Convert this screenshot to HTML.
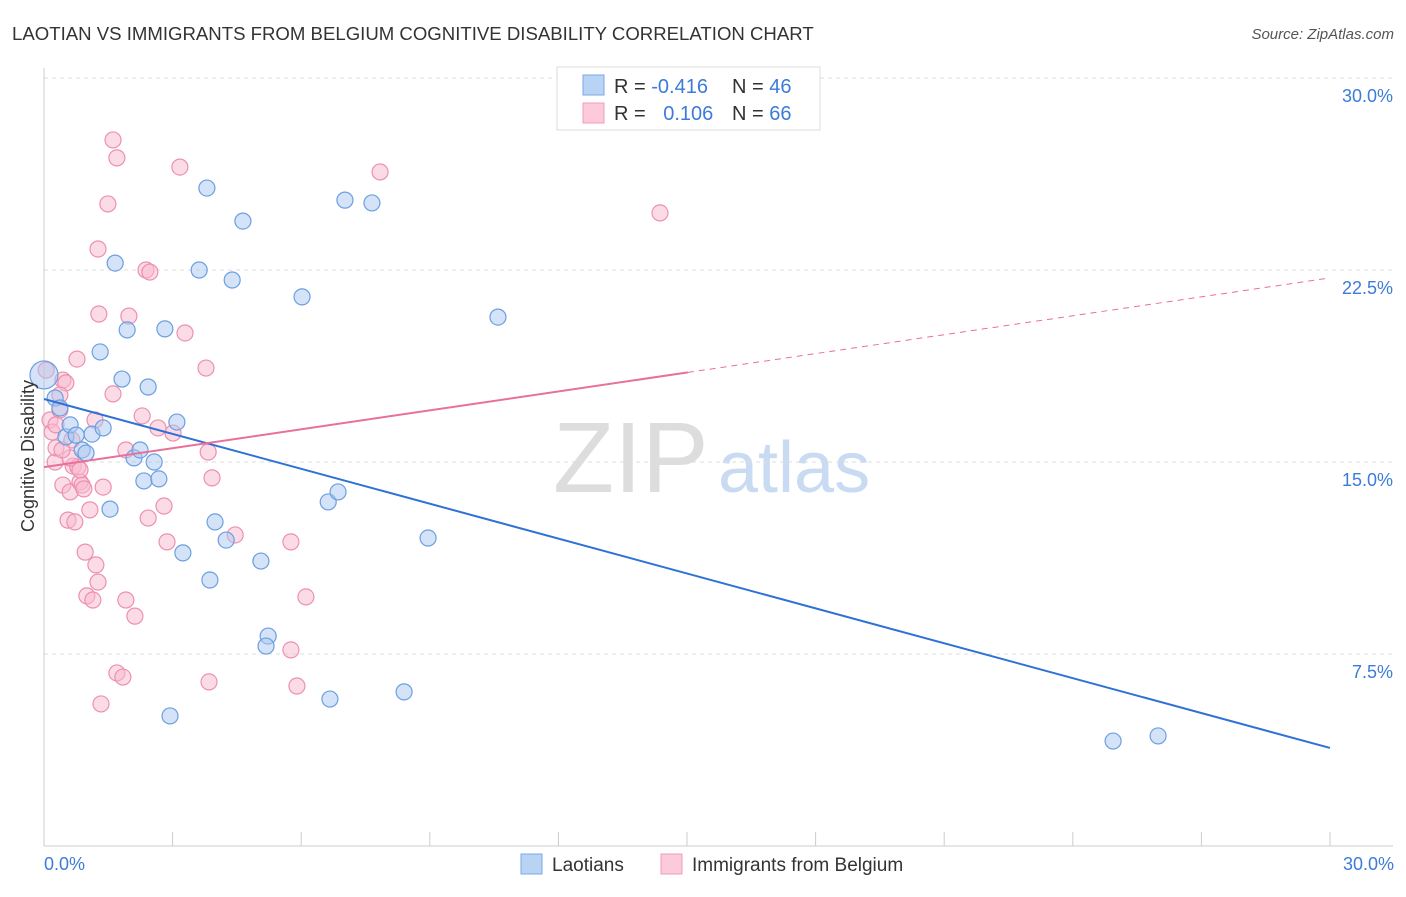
<!DOCTYPE html>
<html><head><meta charset="utf-8"><style>
body{margin:0;background:#fff;font-family:"Liberation Sans",sans-serif;}
svg text{font-family:"Liberation Sans",sans-serif;}
</style></head><body>
<svg id="c" width="1406" height="892" xmlns="http://www.w3.org/2000/svg">
<text x="12" y="40" font-size="18.6" fill="#333">LAOTIAN VS IMMIGRANTS FROM BELGIUM COGNITIVE DISABILITY CORRELATION CHART</text>
<text x="1394" y="39" font-size="15" fill="#555" font-style="italic" text-anchor="end">Source: ZipAtlas.com</text>
<text x="553" y="492" font-size="100" fill="#ddd" font-family="Liberation Serif">ZIP</text>
<text x="718" y="492" font-size="72" fill="#c9daf3">atlas</text>
<g id="grid"></g><g id="pts"></g><g id="lines"></g>
<text x="34" y="456" font-size="18" fill="#333" text-anchor="middle" transform="rotate(-90 34 456)">Cognitive Disability</text>
<g>
<rect x="557" y="67" width="263" height="63" fill="#fff" stroke="#ddd"/>
<rect x="583" y="75" width="21" height="20" fill="#b9d3f5" stroke="#7aa7e6"/>
<rect x="583" y="103" width="21" height="20" fill="#fccadb" stroke="#f19cba"/>
<text x="614" y="93" font-size="20" fill="#333">R = <tspan fill="#3d7bd9">-0.416</tspan></text>
<text x="732" y="93" font-size="20" fill="#333">N = <tspan fill="#3d7bd9">46</tspan></text>
<text x="614" y="120" font-size="20" fill="#333">R = <tspan fill="#3d7bd9" dx="12">0.106</tspan></text>
<text x="732" y="120" font-size="20" fill="#333">N = <tspan fill="#3d7bd9">66</tspan></text>
</g>
<g>
<rect x="521" y="854" width="21" height="20" fill="#b9d3f5" stroke="#7aa7e6"/>
<text x="552" y="871" font-size="19" fill="#333">Laotians</text>
<rect x="661" y="854" width="21" height="20" fill="#fccadb" stroke="#f19cba"/>
<text x="692" y="871" font-size="19" fill="#333">Immigrants from Belgium</text>
</g>
</svg>
<script>
const blueX=[0,0.26,0.37,0.51,0.61,0.75,0.89,0.98,1.12,1.31,1.38,1.54,1.66,1.82,1.94,2.10,2.24,2.33,2.43,2.57,2.68,2.82,2.94,3.10,3.24,3.62,3.80,3.87,3.99,4.25,4.39,4.64,5.06,5.23,5.18,6.02,6.63,6.67,6.86,7.02,7.65,8.40,8.96,10.59,24.94,25.99];
const blueY=[18.40,17.50,17.11,15.98,16.45,16.05,15.47,15.35,16.09,19.30,16.33,13.16,22.77,18.24,20.16,15.16,15.47,14.26,17.93,15.00,14.34,20.20,5.08,16.56,11.45,22.50,25.70,10.39,12.66,11.95,22.11,24.41,11.13,8.20,7.81,21.45,13.44,5.74,13.83,25.23,25.12,6.02,12.03,20.66,4.10,4.30];
const pinkX=[0.05,0.14,0.19,0.26,0.28,0.37,0.44,0.44,0.51,0.56,0.61,0.65,0.68,0.72,0.77,0.79,0.84,0.89,0.93,0.96,1.00,1.07,1.14,1.21,1.26,1.28,1.26,1.38,1.33,1.49,1.61,1.61,1.70,1.70,1.84,1.91,1.91,1.98,2.12,2.29,2.38,2.47,2.43,2.66,2.80,2.87,3.01,3.17,3.29,3.78,3.83,3.85,3.92,4.46,5.76,5.76,5.90,6.11,7.84,14.37,0.28,0.61,0.84,0.37,0.42,1.19];
const pinkY=[18.59,16.64,16.17,15.00,15.55,17.03,14.10,18.20,18.09,12.73,13.83,15.86,14.84,12.66,19.02,14.80,14.22,14.10,13.95,11.48,9.77,13.13,9.61,10.98,10.31,20.78,23.32,14.02,5.55,25.08,27.58,17.66,26.88,6.76,6.60,15.47,9.61,20.70,8.98,16.80,22.50,22.42,12.81,16.33,13.28,11.88,16.13,26.52,20.04,18.67,15.39,6.41,14.38,12.15,11.88,7.66,6.25,9.73,26.33,24.73,16.45,15.16,14.69,17.62,15.47,16.64];
const yTicks=[7.5,15,22.5,30];
const yTickLabels=["7.5%","15.0%","22.5%","30.0%"];
const blueTrend=[17.46,3.83];
const pinkTrend=[14.80,22.19];
const pinkSolidEnd=15.02;
const NS="http://www.w3.org/2000/svg";
const X=v=>44+v/30*1286, Y=v=>846-v/30*768;
function mk(tag,attrs,parent){const e=document.createElementNS(NS,tag);for(const k in attrs)e.setAttribute(k,attrs[k]);document.getElementById(parent).appendChild(e);return e;}
let e;
yTicks.forEach((t,i)=>{
 e=mk('line',{x1:44,x2:1393,y1:Y(t),y2:Y(t),stroke:'#ddd','stroke-dasharray':'4,4'},'grid');
 
 
 e=mk('text',{x:1393,y:Y(t)+24,'font-size':18,fill:'#3d7bd9','text-anchor':'end'},'grid');
 e.textContent=yTickLabels[i];
 
 
});
e=mk('line',{x1:44,x2:44,y1:68,y2:846,stroke:'#ccc'},'grid');


e=mk('line',{x1:44,x2:1393,y1:846,y2:846,stroke:'#ccc'},'grid');


for(let i=1;i<=10;i++){
 e=mk('line',{x1:X(i*3),x2:X(i*3),y1:832,y2:846,stroke:'#ccc'},'grid');
 
 
}
e=mk('text',{x:44,y:870,'font-size':18,fill:'#3d7bd9'},'grid');e.textContent='0.0%';


e=mk('text',{x:1394,y:870,'font-size':18,fill:'#3d7bd9','text-anchor':'end'},'grid');e.textContent='30.0%';


function pts(xs,ys,fill,stroke,name,bigFirst){xs.forEach((x,i)=>{
 const r=(bigFirst&&i===0)?14:8;
 e=mk('circle',{cx:X(x),cy:Y(ys[i]),r:r,fill:fill,'fill-opacity':0.5,stroke:stroke,'stroke-width':1.2},'pts');
 
 
});}
pts(pinkX,pinkY,'#f7b9cd','#ee8fb0','point-belgium',false);
pts(blueX,blueY,'#a9c8f0','#6b9fe0','point-laotian',true);
e=mk('line',{x1:X(0),y1:Y(blueTrend[0]),x2:X(30),y2:Y(blueTrend[1]),stroke:'#2f72d6','stroke-width':2},'lines');


const py=x=>pinkTrend[0]+(pinkTrend[1]-pinkTrend[0])*x/30;
e=mk('line',{x1:X(0),y1:Y(py(0)),x2:X(pinkSolidEnd),y2:Y(py(pinkSolidEnd)),stroke:'#e8709a','stroke-width':2},'lines');


e=mk('line',{x1:X(pinkSolidEnd),y1:Y(py(pinkSolidEnd)),x2:X(30),y2:Y(py(30)),stroke:'#e8709a','stroke-width':1,'stroke-dasharray':'6,5'},'lines');


</script>
</body></html>
